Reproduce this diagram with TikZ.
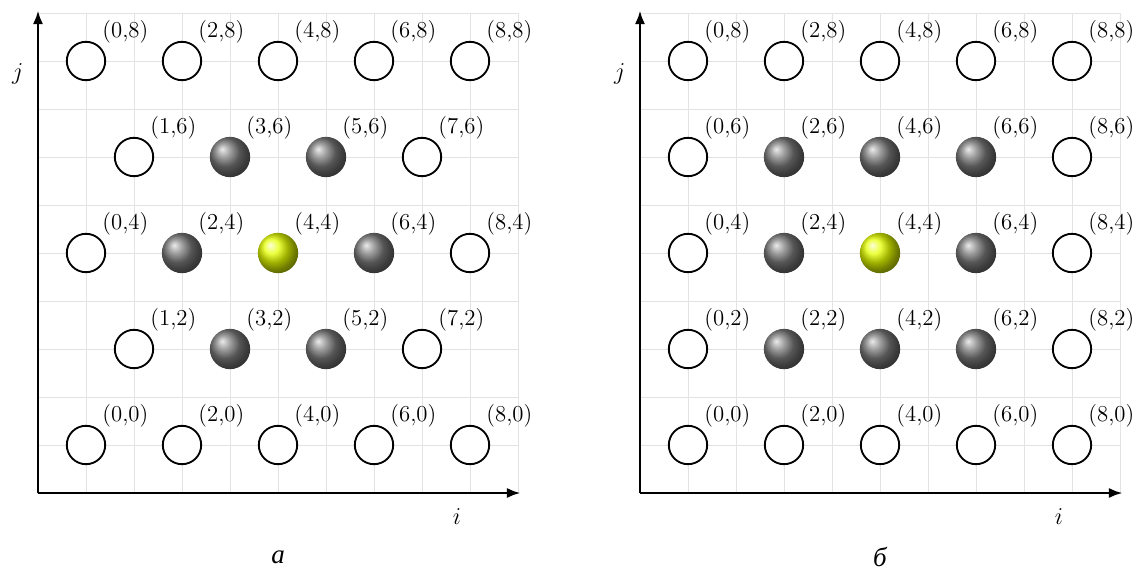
\documentclass[tikz,border=0pt]{standalone}
\usepackage{fontspec}
\newfontfamily\capfont{Liberation Serif}
\usetikzlibrary{arrows.meta}
\begin{document}
\begin{tikzpicture}[x=1cm,y=1cm,
  site/.style={circle, draw=black, line width=1.1pt, fill=white, minimum size=0.8cm, inner sep=0pt},
  darkball/.style={circle, ball color=black!52, minimum size=0.84cm, inner sep=0pt},
  yelball/.style={circle, ball color=yellow!90!green, minimum size=0.84cm, inner sep=0pt},
  coordlabel/.style={font=\fontsize{13.5}{15}\selectfont, inner sep=0pt},
  axlabel/.style={font=\fontsize{14}{16}\selectfont, inner sep=0pt},
  gridline/.style={draw=gray!22, line width=0.45pt},
  axisline/.style={line width=1.35pt, -{Latex[length=2.8mm,width=2.1mm]}},
  capstyle/.style={font=\capfont\itshape\fontsize{16}{18}\selectfont, inner sep=0pt}]
\useasboundingbox (0,0) rectangle (23.7708,11.9375);
% ---------------- panel a ----------------
\begin{scope}[shift={(1.79167,2.66667)}]
  \draw[gridline] (-1,-1) grid (9,9);
  \draw[gridline] (-1,-1) rectangle (9,9);
  \coordinate (aO) at (-1,-1);
  \coordinate (aX) at (9.05,-1);
  \coordinate (aY) at (-1,9.05);
  \draw[axisline] (aO) -- (aX);
  \draw[axisline] (aO) -- (aY);
  \node[axlabel] (ai) at (7.73,-1.5) {$i$};
  \node[axlabel] (aj) at (-1.42,7.73) {$j$};
  \foreach \i/\j/\t in {0/8/site,2/8/site,4/8/site,6/8/site,8/8/site,
                        1/6/site,3/6/darkball,5/6/darkball,7/6/site,
                        0/4/site,2/4/darkball,4/4/yelball,6/4/darkball,8/4/site,
                        1/2/site,3/2/darkball,5/2/darkball,7/2/site,
                        0/0/site,2/0/site,4/0/site,6/0/site,8/0/site}{
    \node[\t] (a-\i-\j) at (\i,\j) {};
    \node[coordlabel] (la-\i-\j) at (\i+0.82,\j+0.6) {(\i,\j)};
  }
  \node[capstyle] (capa) at (4,-2.33) {а};
\end{scope}
% ---------------- panel b ----------------
\begin{scope}[shift={(14.3333,2.66667)}]
  \draw[gridline] (-1,-1) grid (9,9);
  \draw[gridline] (-1,-1) rectangle (9,9);
  \coordinate (bO) at (-1,-1);
  \coordinate (bX) at (9.05,-1);
  \coordinate (bY) at (-1,9.05);
  \draw[axisline] (bO) -- (bX);
  \draw[axisline] (bO) -- (bY);
  \node[axlabel] (bi) at (7.73,-1.5) {$i$};
  \node[axlabel] (bj) at (-1.42,7.73) {$j$};
  \foreach \i/\j/\t in {0/8/site,2/8/site,4/8/site,6/8/site,8/8/site,
                        0/6/site,2/6/darkball,4/6/darkball,6/6/darkball,8/6/site,
                        0/4/site,2/4/darkball,4/4/yelball,6/4/darkball,8/4/site,
                        0/2/site,2/2/darkball,4/2/darkball,6/2/darkball,8/2/site,
                        0/0/site,2/0/site,4/0/site,6/0/site,8/0/site}{
    \node[\t] (b-\i-\j) at (\i,\j) {};
    \node[coordlabel] (lb-\i-\j) at (\i+0.82,\j+0.6) {(\i,\j)};
  }
  \node[capstyle] (capb) at (4,-2.33) {б};
\end{scope}
\end{tikzpicture}
\end{document}
